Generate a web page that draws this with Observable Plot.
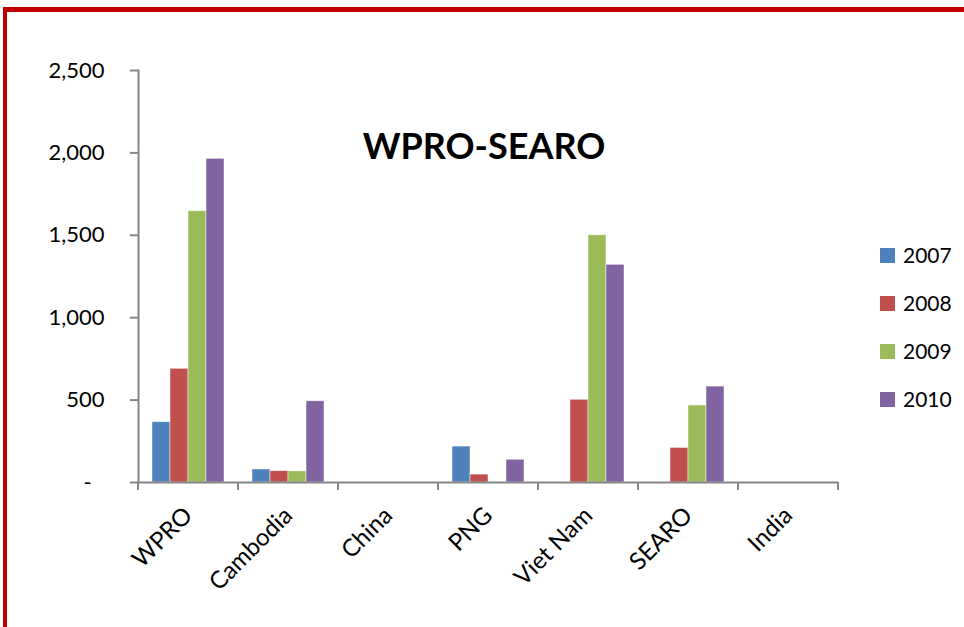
<!DOCTYPE html>
<html>
<head>
<meta charset="utf-8">
<script src="https://cdn.jsdelivr.net/npm/d3@7"></script>
<script src="https://cdn.jsdelivr.net/npm/@observablehq/plot@0.6"></script>
<style>
  html, body { margin: 0; padding: 0; background: #fff; }
  #wrap { position: relative; width: 964px; height: 627px; overflow: hidden; font-family: Lato, "Open Sans", sans-serif; }
  #border { position: absolute; left: 3px; top: 7px; right: -20px; bottom: -20px;
            border-left: 4px solid #c00000; border-top: 5px solid #c00000; pointer-events: none; }
  #chart { position: absolute; left: 0; top: 0; }
  #chart svg line, #chart svg path { stroke: #868686; stroke-width: 2px; }
  #chart svg [aria-label="fx-axis tick label"] text, #chart svg [aria-label="fx-axis tick label"] { font-size: 24px; }
  #title { position: absolute; left: 0; width: 968px; top: 123px; text-align: center;
           font-weight: bold; font-size: 36px; line-height: 44px; color: #000; }
  #legend { position: absolute; left: 880px; top: 0; }
  .lg { position: absolute; left: 0; display: flex; align-items: center; white-space: nowrap;
        font-size: 21px; line-height: 24px; color: #000; }
  .lg span.sw { display: inline-block; width: 15px; height: 15px; margin-right: 8px; }
</style>
</head>
<body>
<div id="wrap">
  <div id="chart"></div>
  <div id="title">WPRO-SEARO</div>
  <div id="legend"></div>
  <div id="border"></div>
</div>
<script>
const categories = ["WPRO", "Cambodia", "China", "PNG", "Viet Nam", "SEARO", "India"];
const years = ["2007", "2008", "2009", "2010"];
const values2007 = [366, 79, 0, 218, 0, 0, 0];
const values2008 = [690, 69, 0, 48, 502, 210, 0];
const values2009 = [1646, 68, 0, 0, 1500, 467, 0];
const values2010 = [1964, 493, 0, 138, 1321, 582, 0];
const colors = ["#4F81BD", "#C0504D", "#9BBB59", "#8064A2"];
const yTicks = [0, 500, 1000, 1500, 2000, 2500];

const series = [values2007, values2008, values2009, values2010];
const table = [];
categories.forEach((c, i) => years.forEach((y, j) => table.push({cat: c, year: y, value: series[j][i]})));

// category boundary ticks: drawn in each facet at the edges of the facet's inner x range
function boundaryTicks(index, scales, values, dims) {
  const y0 = scales.y(0);
  const r = scales.x && typeof scales.x.range === "function" ? scales.x.range() : [dims.marginLeft, dims.width - dims.marginRight];
  const g = d3.create("svg:g");
  for (const x of [r[0], r[r.length - 1]]) {
    g.append("line").attr("x1", x).attr("x2", x).attr("y1", y0).attr("y2", y0 + 8);
  }
  return g.node();
}

const plot = Plot.plot({
  width: 964,
  height: 627,
  marginLeft: 138,
  marginRight: 126,
  marginTop: 70,
  marginBottom: 145,
  style: {fontFamily: "Lato, 'Open Sans', sans-serif", fontSize: "22px", color: "#000", background: "transparent"},
  fx: {domain: categories, padding: 0, axis: "bottom", label: null, tickSize: 0, tickRotate: -45, tickPadding: 29},
  x: {domain: years, paddingInner: 0, paddingOuter: 0.74, axis: null},
  y: {domain: [0, 2500], ticks: yTicks, tickSize: 8, tickPadding: 26, label: null, line: true,
      tickFormat: d => d === 0 ? "-\u2007" : d3.format(",")(d)},
  color: {domain: years, range: colors},
  marks: [
    Plot.barY(table, {fx: "cat", x: "year", y: "value", fill: "year",
      stroke: d => d.value > 0 ? "#ffffff" : "none", strokeOpacity: 0.6, strokeWidth: 0.8}),
    Plot.ruleY([0], {stroke: "#868686", strokeWidth: 2}),
    boundaryTicks
  ]
});
document.getElementById("chart").appendChild(plot);

const legend = document.getElementById("legend");
const rowCenters = [255, 303, 351, 399];
years.forEach((y, i) => {
  const row = document.createElement("div");
  row.className = "lg";
  row.style.top = (rowCenters[i] - 12) + "px";
  row.innerHTML = `<span class="sw" style="background:${colors[i]}"></span>${y}`;
  legend.appendChild(row);
});
</script>
</body>
</html>
